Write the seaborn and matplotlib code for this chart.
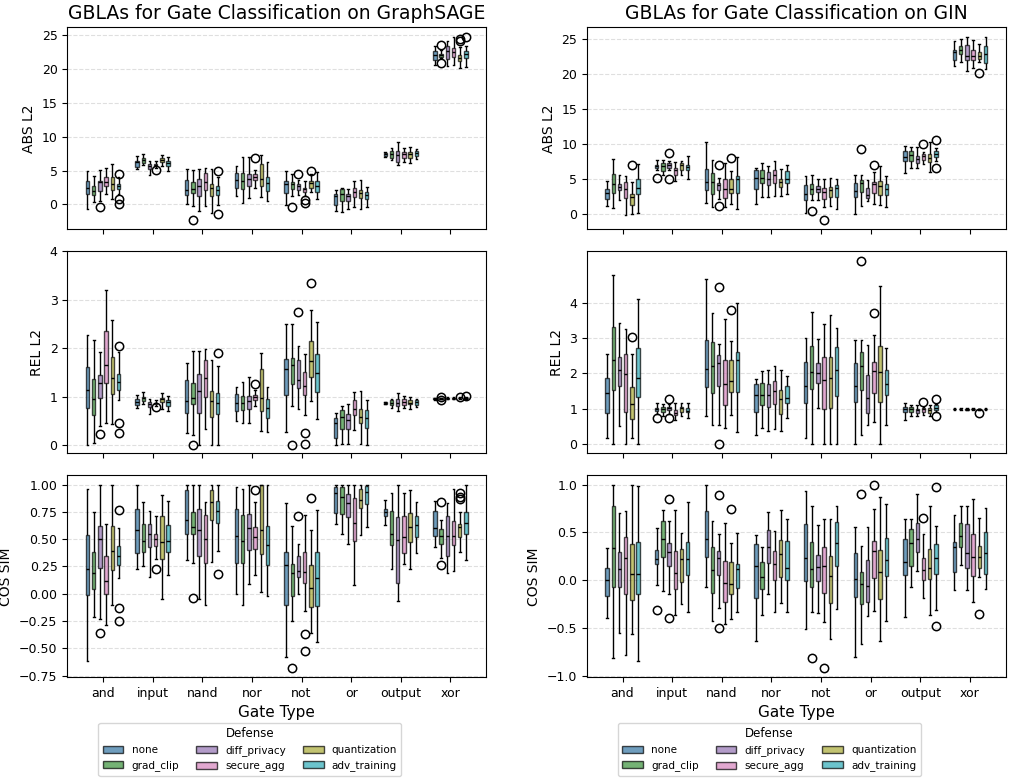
import numpy as np
import pandas as pd
import matplotlib
matplotlib.use('Agg')
import matplotlib.pyplot as plt
import seaborn as sns

GATES = ['and', 'input', 'nand', 'nor', 'not', 'or', 'output', 'xor']
DEFENSES = ['none', 'grad_clip', 'diff_privacy', 'secure_agg', 'quantization', 'adv_training']
PALETTE = ['tab:blue', 'tab:green', 'tab:purple', 'tab:pink', 'tab:olive', 'tab:cyan']

# each box: [whisker_low, q1, median, q3, whisker_high, *outliers]
# one row per gate, six boxes per row (defense order)
sage_abs = [
    [[-0.65, 1.5, 2.4, 3.5, 5.0], [0.4, 1.4, 2.0, 2.75, 4.2], [0.5, 2.0, 3.3, 3.5, 5.1, -0.35],
     [1.6, 2.75, 3.35, 4.0, 5.4], [0.8, 2.1, 3.0, 4.0, 6.0], [1.5, 2.25, 2.65, 3.0, 4.1, 4.5, 0.75, 0.05]],
    [[5.2, 5.6, 6.2, 6.45, 7.2], [5.8, 6.15, 6.5, 6.8, 7.45], [4.25, 5.3, 5.7, 5.95, 6.35],
     [5.45, 5.65, 5.8, 5.95, 6.35, 5.15], [5.7, 6.2, 6.5, 6.8, 7.3], [5.0, 5.7, 6.05, 6.45, 6.95]],
    [[0.05, 1.4, 2.15, 3.65, 5.2], [-0.2, 1.75, 2.25, 3.25, 5.1, -2.3], [-0.95, 1.3, 2.75, 3.75, 5.2],
     [-0.2, 2.1, 3.35, 4.7, 5.45], [-1.3, 1.3, 2.4, 3.0, 5.2], [-0.1, 1.4, 2.1, 2.65, 4.0, 4.9, -1.35]],
    [[1.2, 2.4, 3.65, 4.7, 5.7], [0.2, 2.25, 3.45, 4.7, 6.95], [0.95, 2.75, 3.75, 4.5, 6.95],
     [2.05, 3.65, 4.1, 4.5, 5.1, 6.85], [1.05, 2.65, 3.75, 5.95, 7.3], [0.45, 2.0, 3.15, 4.0, 6.3]],
    [[-0.1, 1.7, 3.0, 3.45, 5.0], [1.3, 2.25, 3.0, 3.25, 4.5, -0.35], [1.4, 2.15, 2.75, 3.0, 3.65, 4.5],
     [1.3, 1.9, 2.25, 2.5, 3.65, 0.6, 0.25], [1.85, 2.5, 3.15, 3.45, 4.5, 5.0], [0.8, 1.9, 2.65, 3.5, 4.85]],
    [[-0.95, -0.1, 1.3, 1.6, 2.15], [-1.05, 0.45, 1.6, 2.25, 2.5], [-0.7, 0.55, 1.2, 1.6, 2.25],
     [-0.45, 1.05, 1.9, 2.5, 3.5], [-0.7, 0.9, 1.75, 2.15, 3.6], [-0.45, 0.8, 1.4, 1.9, 2.55]],
    [[7.05, 7.2, 7.4, 7.55, 7.7], [6.55, 6.9, 7.45, 7.85, 8.3], [5.8, 6.3, 7.3, 7.9, 9.25],
     [6.3, 6.85, 7.4, 7.8, 8.4], [6.1, 6.9, 7.4, 7.8, 8.5], [6.7, 7.1, 7.55, 7.85, 8.25]],
    [[20.65, 21.4, 22.05, 22.7, 23.35], [21.6, 21.8, 22.1, 22.25, 22.75, 23.6, 20.95], [20.5, 21.5, 22.7, 23.35, 24.2],
     [20.6, 21.8, 22.55, 23.05, 24.8], [20.1, 21.2, 21.7, 22.1, 23.3, 24.45, 24.15], [20.25, 21.6, 22.25, 22.7, 23.35, 24.8]],
]

sage_rel = [
    [[0.0, 0.77, 1.13, 1.61, 2.27], [0.05, 0.62, 0.95, 1.37, 2.17], [0.39, 0.97, 1.28, 1.44, 1.93, 0.23],
     [0.46, 1.28, 1.65, 2.36, 3.21], [0.44, 1.05, 1.39, 1.81, 2.58], [0.92, 1.13, 1.31, 1.46, 1.92, 2.04, 0.45, 0.24]],
    [[0.77, 0.82, 0.88, 0.94, 1.04], [0.85, 0.91, 0.97, 1.0, 1.09], [0.63, 0.78, 0.84, 0.88, 0.94],
     [0.81, 0.84, 0.86, 0.875, 0.93, 0.78], [0.75, 0.88, 0.94, 0.98, 1.07], [0.71, 0.81, 0.88, 0.92, 1.02]],
    [[0.24, 0.66, 0.9, 1.35, 1.7], [0.2, 0.85, 0.97, 1.29, 1.97, 0.0], [0.0, 0.67, 1.11, 1.47, 1.95],
     [0.32, 1.0, 1.39, 1.76, 1.98], [0.0, 0.58, 0.9, 1.12, 1.76], [0.0, 0.64, 0.87, 1.08, 1.63, 1.9]],
    [[0.49, 0.71, 0.87, 1.05, 1.2], [0.46, 0.73, 0.87, 1.02, 1.31], [0.46, 0.75, 0.9, 1.02, 1.41],
     [0.81, 0.93, 0.99, 1.04, 1.14, 1.26], [0.29, 0.7, 0.98, 1.56, 1.9], [0.27, 0.56, 0.77, 0.94, 1.2]],
    [[0.27, 1.03, 1.58, 1.78, 2.49], [0.8, 1.26, 1.66, 1.8, 2.49, 0.0], [0.75, 1.17, 1.35, 1.76, 2.04, 2.74],
     [0.61, 1.03, 1.21, 1.5, 1.88, 0.25, 0.02], [0.9, 1.41, 1.73, 2.14, 2.78, 3.35], [0.53, 1.09, 1.48, 1.88, 2.54]],
    [[0.0, 0.14, 0.45, 0.56, 0.67], [0.02, 0.33, 0.58, 0.73, 0.8], [0.02, 0.33, 0.51, 0.63, 0.84],
     [0.31, 0.62, 0.75, 0.92, 1.09], [0.02, 0.45, 0.57, 0.75, 1.11], [0.0, 0.36, 0.55, 0.72, 0.92]],
    [[0.84, 0.85, 0.865, 0.88, 0.89], [0.77, 0.83, 0.87, 0.92, 0.95], [0.7, 0.8, 0.86, 0.94, 1.07],
     [0.77, 0.82, 0.88, 0.94, 1.02], [0.74, 0.84, 0.87, 0.92, 0.99], [0.79, 0.83, 0.88, 0.92, 0.96]],
    [[0.93, 0.945, 0.955, 0.965, 0.98], [0.945, 0.955, 0.96, 0.965, 0.975, 1.0, 0.92], [0.945, 0.96, 0.965, 0.97, 0.985],
     [0.95, 0.96, 0.97, 0.975, 0.99], [0.955, 0.965, 0.97, 0.975, 0.985, 1.0], [0.96, 0.97, 0.975, 0.98, 0.99, 1.02]],
]

sage_cos = [
    [[-0.62, -0.01, 0.23, 0.54, 0.96], [-0.21, 0.04, 0.19, 0.38, 0.75], [-0.23, 0.24, 0.5, 0.62, 1.0, -0.36],
     [-0.29, 0.0, 0.12, 0.35, 0.64], [-0.1, 0.22, 0.39, 0.62, 1.0], [0.14, 0.26, 0.35, 0.44, 0.6, 0.77, -0.13, -0.25]],
    [[0.23, 0.37, 0.58, 0.78, 1.0], [0.25, 0.38, 0.48, 0.64, 0.84], [0.15, 0.43, 0.55, 0.64, 0.76],
     [0.32, 0.44, 0.5, 0.55, 0.73, 0.23], [-0.05, 0.32, 0.47, 0.71, 0.9], [0.17, 0.38, 0.48, 0.63, 0.85]],
    [[0.31, 0.55, 0.68, 0.95, 1.0], [0.28, 0.55, 0.61, 0.75, 1.0, -0.04], [-0.05, 0.35, 0.58, 0.78, 1.0],
     [-0.1, 0.28, 0.5, 0.72, 0.84], [0.29, 0.68, 0.84, 0.95, 1.0], [0.39, 0.65, 0.76, 0.85, 1.0, 0.18]],
    [[0.0, 0.28, 0.53, 0.78, 0.98], [-0.1, 0.28, 0.48, 0.72, 0.96], [0.09, 0.4, 0.6, 0.73, 1.0],
     [0.17, 0.41, 0.52, 0.61, 0.84, 0.95], [0.02, 0.36, 0.58, 1.0, 1.0], [-0.02, 0.26, 0.45, 0.62, 1.0]],
    [[-0.58, -0.1, 0.26, 0.38, 0.83], [-0.25, -0.02, 0.19, 0.27, 0.62, -0.68], [0.0, 0.15, 0.21, 0.35, 0.46, 0.71],
     [-0.16, 0.1, 0.2, 0.38, 0.72, -0.37, -0.52], [-0.36, -0.12, 0.05, 0.26, 0.58, 0.88], [-0.44, -0.11, 0.14, 0.38, 0.77]],
    [[0.64, 0.74, 0.92, 0.98, 1.0], [0.55, 0.73, 0.89, 0.98, 1.0], [0.46, 0.7, 0.83, 0.91, 1.0],
     [0.08, 0.48, 0.65, 0.88, 1.0], [0.5, 0.79, 0.86, 0.96, 1.0], [0.61, 0.82, 0.93, 0.99, 1.0]],
    [[0.63, 0.71, 0.75, 0.78, 0.86], [0.23, 0.45, 0.55, 0.76, 0.92], [-0.07, 0.1, 0.49, 0.7, 1.0],
     [0.27, 0.37, 0.52, 0.71, 0.92], [0.23, 0.47, 0.61, 0.74, 0.95], [0.37, 0.52, 0.63, 0.71, 0.84]],
    [[0.43, 0.53, 0.6, 0.76, 0.85], [0.33, 0.46, 0.53, 0.59, 0.68, 0.84, 0.26], [0.19, 0.35, 0.53, 0.71, 0.83],
     [0.21, 0.45, 0.53, 0.67, 0.96], [0.38, 0.52, 0.61, 0.64, 0.75, 0.92, 0.89, 0.87], [0.31, 0.55, 0.65, 0.75, 1.0]],
]

gin_abs = [
    [[1.1, 2.15, 3.0, 3.6, 4.7], [0.9, 3.05, 4.3, 5.65, 7.8], [1.8, 3.4, 3.9, 4.3, 5.6],
     [-0.23, 2.25, 3.6, 4.5, 5.43], [-0.05, 1.31, 2.39, 2.86, 4.5, 7.02], [0.14, 2.86, 3.7, 4.96, 7.12]],
    [[6.23, 6.6, 6.84, 7.07, 7.87, 5.2], [5.52, 6.09, 6.79, 7.26, 7.72], [6.23, 6.6, 7.07, 7.26, 7.63, 8.75, 5.0],
     [4.68, 5.52, 6.23, 6.6, 7.4], [5.52, 6.32, 7.07, 7.26, 7.63], [5.0, 6.23, 6.65, 7.07, 8.24]],
    [[1.5, 3.42, 4.63, 6.41, 10.35], [0.94, 2.86, 4.54, 5.9, 7.72], [2.15, 3.42, 4.17, 4.45, 5.2, 6.98, 1.12],
     [0.94, 2.25, 3.56, 4.92, 7.26], [1.45, 3.04, 3.56, 4.96, 6.13, 8.05], [0.7, 3.04, 4.92, 5.38, 8.19]],
    [[1.45, 3.56, 5.15, 6.23, 6.6], [2.48, 4.35, 5.15, 6.23, 7.3], [2.39, 4.12, 5.0, 5.95, 6.88],
     [2.57, 4.45, 5.52, 6.32, 7.63], [2.57, 3.79, 4.59, 5.06, 6.37], [2.86, 4.4, 4.96, 6.18, 7.07]],
    [[0.14, 2.01, 2.9, 4.17, 5.43], [2.01, 2.86, 3.6, 4.26, 5.52, 0.42], [2.01, 3.1, 3.56, 3.95, 5.0],
     [0.94, 2.15, 3.09, 3.75, 5.0, -0.89], [1.08, 2.39, 3.42, 3.89, 5.15], [0.75, 2.48, 3.7, 4.12, 4.92]],
    [[-0.05, 2.48, 3.23, 4.35, 5.62], [1.08, 3.18, 4.45, 4.82, 5.62, 9.27], [1.78, 2.2, 2.76, 3.65, 4.82],
     [1.45, 3.0, 4.26, 4.5, 5.99, 7.02], [1.26, 2.67, 4.03, 4.73, 6.88], [1.03, 2.76, 3.51, 4.21, 5.48]],
    [[5.9, 7.54, 8.19, 8.94, 9.74], [6.55, 7.54, 8.43, 9.04, 9.6], [6.55, 7.3, 7.87, 8.29, 9.6],
     [7.16, 7.77, 8.24, 8.57, 8.9, 9.97], [5.99, 7.4, 8.0, 8.57, 10.3], [7.63, 8.1, 8.57, 8.94, 9.5, 10.58, 6.6]],
    [[21.21, 22.05, 23.22, 23.45, 24.72], [21.77, 22.85, 23.45, 24.11, 25.05], [20.5, 22.0, 22.6, 24.25, 25.3],
     [20.97, 22.0, 22.7, 23.45, 24.86], [21.77, 22.23, 22.7, 23.17, 24.4, 20.13], [20.74, 21.58, 22.85, 24.11, 25.42]],
]

gin_rel = [
    [[0.17, 0.88, 1.44, 1.87, 2.54], [0.0, 1.52, 2.37, 3.3, 4.77], [0.51, 1.64, 2.08, 2.47, 3.43],
     [0.0, 0.92, 1.97, 2.54, 3.26], [0.17, 0.71, 1.14, 1.62, 2.56, 3.03], [0.0, 1.34, 1.87, 2.71, 4.11]],
    [[0.86, 0.93, 0.99, 1.03, 1.15, 0.74], [0.78, 0.9, 0.98, 1.06, 1.14], [0.84, 0.95, 1.02, 1.06, 1.12, 1.27, 0.74],
     [0.68, 0.81, 0.89, 0.95, 1.15], [0.8, 0.92, 1.03, 1.06, 1.15], [0.73, 0.9, 0.94, 1.02, 1.17]],
    [[0.78, 1.62, 2.12, 2.93, 4.66], [0.55, 1.45, 2.2, 2.89, 3.71], [0.53, 1.64, 2.28, 2.51, 2.82, 4.43, 0.0],
     [0.46, 1.11, 1.69, 2.37, 3.53], [0.81, 1.48, 1.77, 2.37, 2.91, 3.79], [0.34, 1.48, 2.37, 2.6, 4.0]],
    [[0.25, 0.9, 1.39, 1.69, 1.85], [0.46, 1.09, 1.39, 1.73, 2.06], [0.37, 1.04, 1.39, 1.71, 2.08],
     [0.43, 1.13, 1.51, 1.78, 2.21], [0.38, 0.85, 1.27, 1.53, 2.08], [0.74, 1.15, 1.29, 1.65, 1.93]],
    [[0.16, 1.15, 1.63, 2.33, 3.0], [0.0, 1.57, 2.03, 2.77, 3.74], [1.03, 1.74, 2.01, 2.29, 2.98],
     [0.0, 0.99, 1.82, 2.47, 3.39], [0.0, 1.02, 1.87, 2.46, 3.65], [0.0, 1.37, 2.08, 2.74, 3.28]],
    [[0.0, 1.18, 1.63, 2.29, 2.95], [0.25, 1.52, 2.21, 2.59, 2.95, 5.19], [0.54, 0.88, 1.31, 1.94, 2.79],
     [0.62, 1.43, 2.06, 2.32, 3.08, 3.7], [0.0, 1.18, 2.05, 2.77, 4.46], [0.55, 1.39, 1.69, 2.1, 2.72]],
    [[0.69, 0.9, 0.99, 1.06, 1.15], [0.8, 0.9, 0.99, 1.06, 1.11], [0.78, 0.88, 0.95, 1.0, 1.11],
     [0.81, 0.92, 0.99, 1.02, 1.06, 1.2], [0.78, 0.88, 0.95, 1.02, 1.11], [0.9, 0.97, 1.03, 1.09, 1.13, 1.28, 0.78]],
    [[0.96, 0.98, 0.99, 1.0, 1.02], [0.965, 0.98, 0.99, 1.0, 1.015], [0.96, 0.975, 0.985, 0.995, 1.01],
     [0.965, 0.98, 0.99, 0.995, 1.01], [0.96, 0.975, 0.98, 0.99, 1.0, 0.87], [0.965, 0.98, 0.99, 1.0, 1.015]],
]

gin_cos = [
    [[-0.4, -0.17, 0.0, 0.13, 0.34], [-0.81, -0.07, 0.34, 0.78, 1.0], [-0.55, -0.07, 0.12, 0.29, 0.7],
     [-0.78, -0.15, 0.23, 0.45, 0.72], [-0.56, -0.21, 0.06, 0.38, 1.0], [-0.85, -0.15, 0.06, 0.4, 0.98]],
    [[-0.05, 0.17, 0.22, 0.32, 0.56, -0.31], [-0.11, 0.24, 0.43, 0.62, 0.73], [-0.15, 0.15, 0.29, 0.39, 0.62, 0.85, -0.4],
     [-0.36, -0.09, 0.07, 0.31, 0.73], [-0.25, -0.02, 0.22, 0.33, 0.49], [-0.33, 0.05, 0.22, 0.4, 0.82]],
    [[-0.07, 0.24, 0.43, 0.72, 1.0], [-0.43, -0.13, 0.11, 0.35, 0.62], [-0.29, 0.05, 0.23, 0.31, 0.48, 0.89, -0.5],
     [-0.46, -0.23, -0.03, 0.2, 0.6], [-0.41, -0.15, -0.04, 0.19, 0.39, 0.74], [-0.33, -0.08, 0.12, 0.17, 0.49]],
    [[-0.64, -0.19, 0.15, 0.38, 0.47], [-0.37, -0.09, 0.03, 0.19, 0.35], [-0.15, 0.18, 0.35, 0.52, 0.71],
     [-0.33, 0.0, 0.17, 0.31, 0.51], [-0.24, 0.03, 0.27, 0.42, 0.73], [-0.33, 0.0, 0.13, 0.41, 0.64]],
    [[-0.51, -0.01, 0.23, 0.59, 0.93], [-0.33, -0.07, 0.12, 0.4, 0.78, -0.81], [-0.34, -0.01, 0.14, 0.26, 0.58],
     [-0.44, -0.13, 0.15, 0.35, 0.64, -0.92], [-0.62, -0.24, 0.04, 0.25, 0.64], [-0.3, 0.15, 0.39, 0.61, 0.78]],
    [[-0.8, -0.18, 0.01, 0.28, 0.56], [-0.67, -0.25, -0.04, 0.08, 0.36, 0.9], [-0.38, -0.23, -0.06, 0.21, 0.56],
     [-0.32, 0.02, 0.31, 0.41, 0.74, 1.0], [-0.64, -0.2, 0.08, 0.32, 0.87], [-0.43, 0.04, 0.21, 0.44, 0.8]],
    [[-0.39, 0.05, 0.19, 0.43, 0.64], [-0.07, 0.15, 0.39, 0.53, 0.64], [0.1, 0.29, 0.43, 0.6, 0.9],
     [-0.19, 0.0, 0.11, 0.23, 0.48, 0.65], [-0.36, 0.01, 0.13, 0.33, 0.78], [-0.31, 0.06, 0.23, 0.38, 0.57, 0.97, -0.48]],
    [[-0.1, 0.09, 0.35, 0.4, 0.68], [0.16, 0.35, 0.46, 0.6, 0.78], [-0.1, 0.13, 0.28, 0.59, 0.78],
     [-0.23, 0.04, 0.24, 0.48, 0.85], [0.03, 0.13, 0.24, 0.36, 0.65, -0.35], [-0.09, 0.06, 0.28, 0.5, 0.75]],
]


def box_points(box):
    # rebuild a sample whose quartiles / whiskers / fliers match the read summary
    lo, q1, med, q3, hi = box[:5]
    iqr = q3 - q1
    lo = max(lo, q1 - 1.499 * iqr)
    hi = min(hi, q3 + 1.499 * iqr)
    return [lo] + [q1] * 20 + [med] * 20 + [q3] * 20 + [hi] + list(box[5:])


def to_frame(panel):
    rows = []
    for gate, boxes in zip(GATES, panel):
        for defense, box in zip(DEFENSES, boxes):
            for v in box_points(box):
                rows.append({'gate': gate, 'defense': defense, 'value': v})
    return pd.DataFrame(rows)


fig, axes = plt.subplots(3, 2, figsize=(10.19, 7.82), dpi=100)
fig.subplots_adjust(left=0.066, right=0.987, top=0.965, bottom=0.134, wspace=0.24, hspace=0.11)

panels = [[sage_abs, gin_abs], [sage_rel, gin_rel], [sage_cos, gin_cos]]
ylabels = ['ABS L2', 'REL L2', 'COS SIM']
titles = ['GBLAs for Gate Classification on GraphSAGE', 'GBLAs for Gate Classification on GIN']

for r in range(3):
    for c in range(2):
        ax = axes[r, c]
        sns.boxplot(data=to_frame(panels[r][c]), x='gate', y='value', hue='defense',
                    order=GATES, hue_order=DEFENSES, palette=PALETTE,
                    width=0.75, gap=0.45, linewidth=1, linecolor='black',
                    fliersize=6, flierprops=dict(marker='o', markerfacecolor='none',
                                                 markeredgecolor='black', markeredgewidth=1.1),
                    boxprops=dict(alpha=0.7), ax=ax)
        ax.set_xlim(-0.72, 7.72)
        ax.grid(axis='y', linestyle='--', alpha=0.4)
        ax.set_axisbelow(True)
        ax.set_ylabel(ylabels[r], fontsize=10)
        ax.tick_params(labelsize=9)
        if r == 0:
            ax.set_title(titles[c], fontsize=13.5)
        if r < 2:
            ax.set_xlabel('')
            ax.tick_params(axis='x', labelbottom=False)
            ax.get_legend().remove()
        else:
            ax.set_xlabel('Gate Type', fontsize=11)
            sns.move_legend(ax, 'upper center', bbox_to_anchor=(0.436, -0.2), ncol=3,
                            title='Defense', fontsize=7.5, title_fontsize=8.5, frameon=True,
                            columnspacing=1.6)
            for h in ax.get_legend().legend_handles:
                h.set_alpha(0.7)

axes[1, 0].set_ylim(-0.17, 4)
axes[1, 0].set_yticks([0, 1, 2, 3, 4])
axes[1, 1].set_yticks([0, 1, 2, 3, 4])

fig.savefig('out.png', dpi=100)
